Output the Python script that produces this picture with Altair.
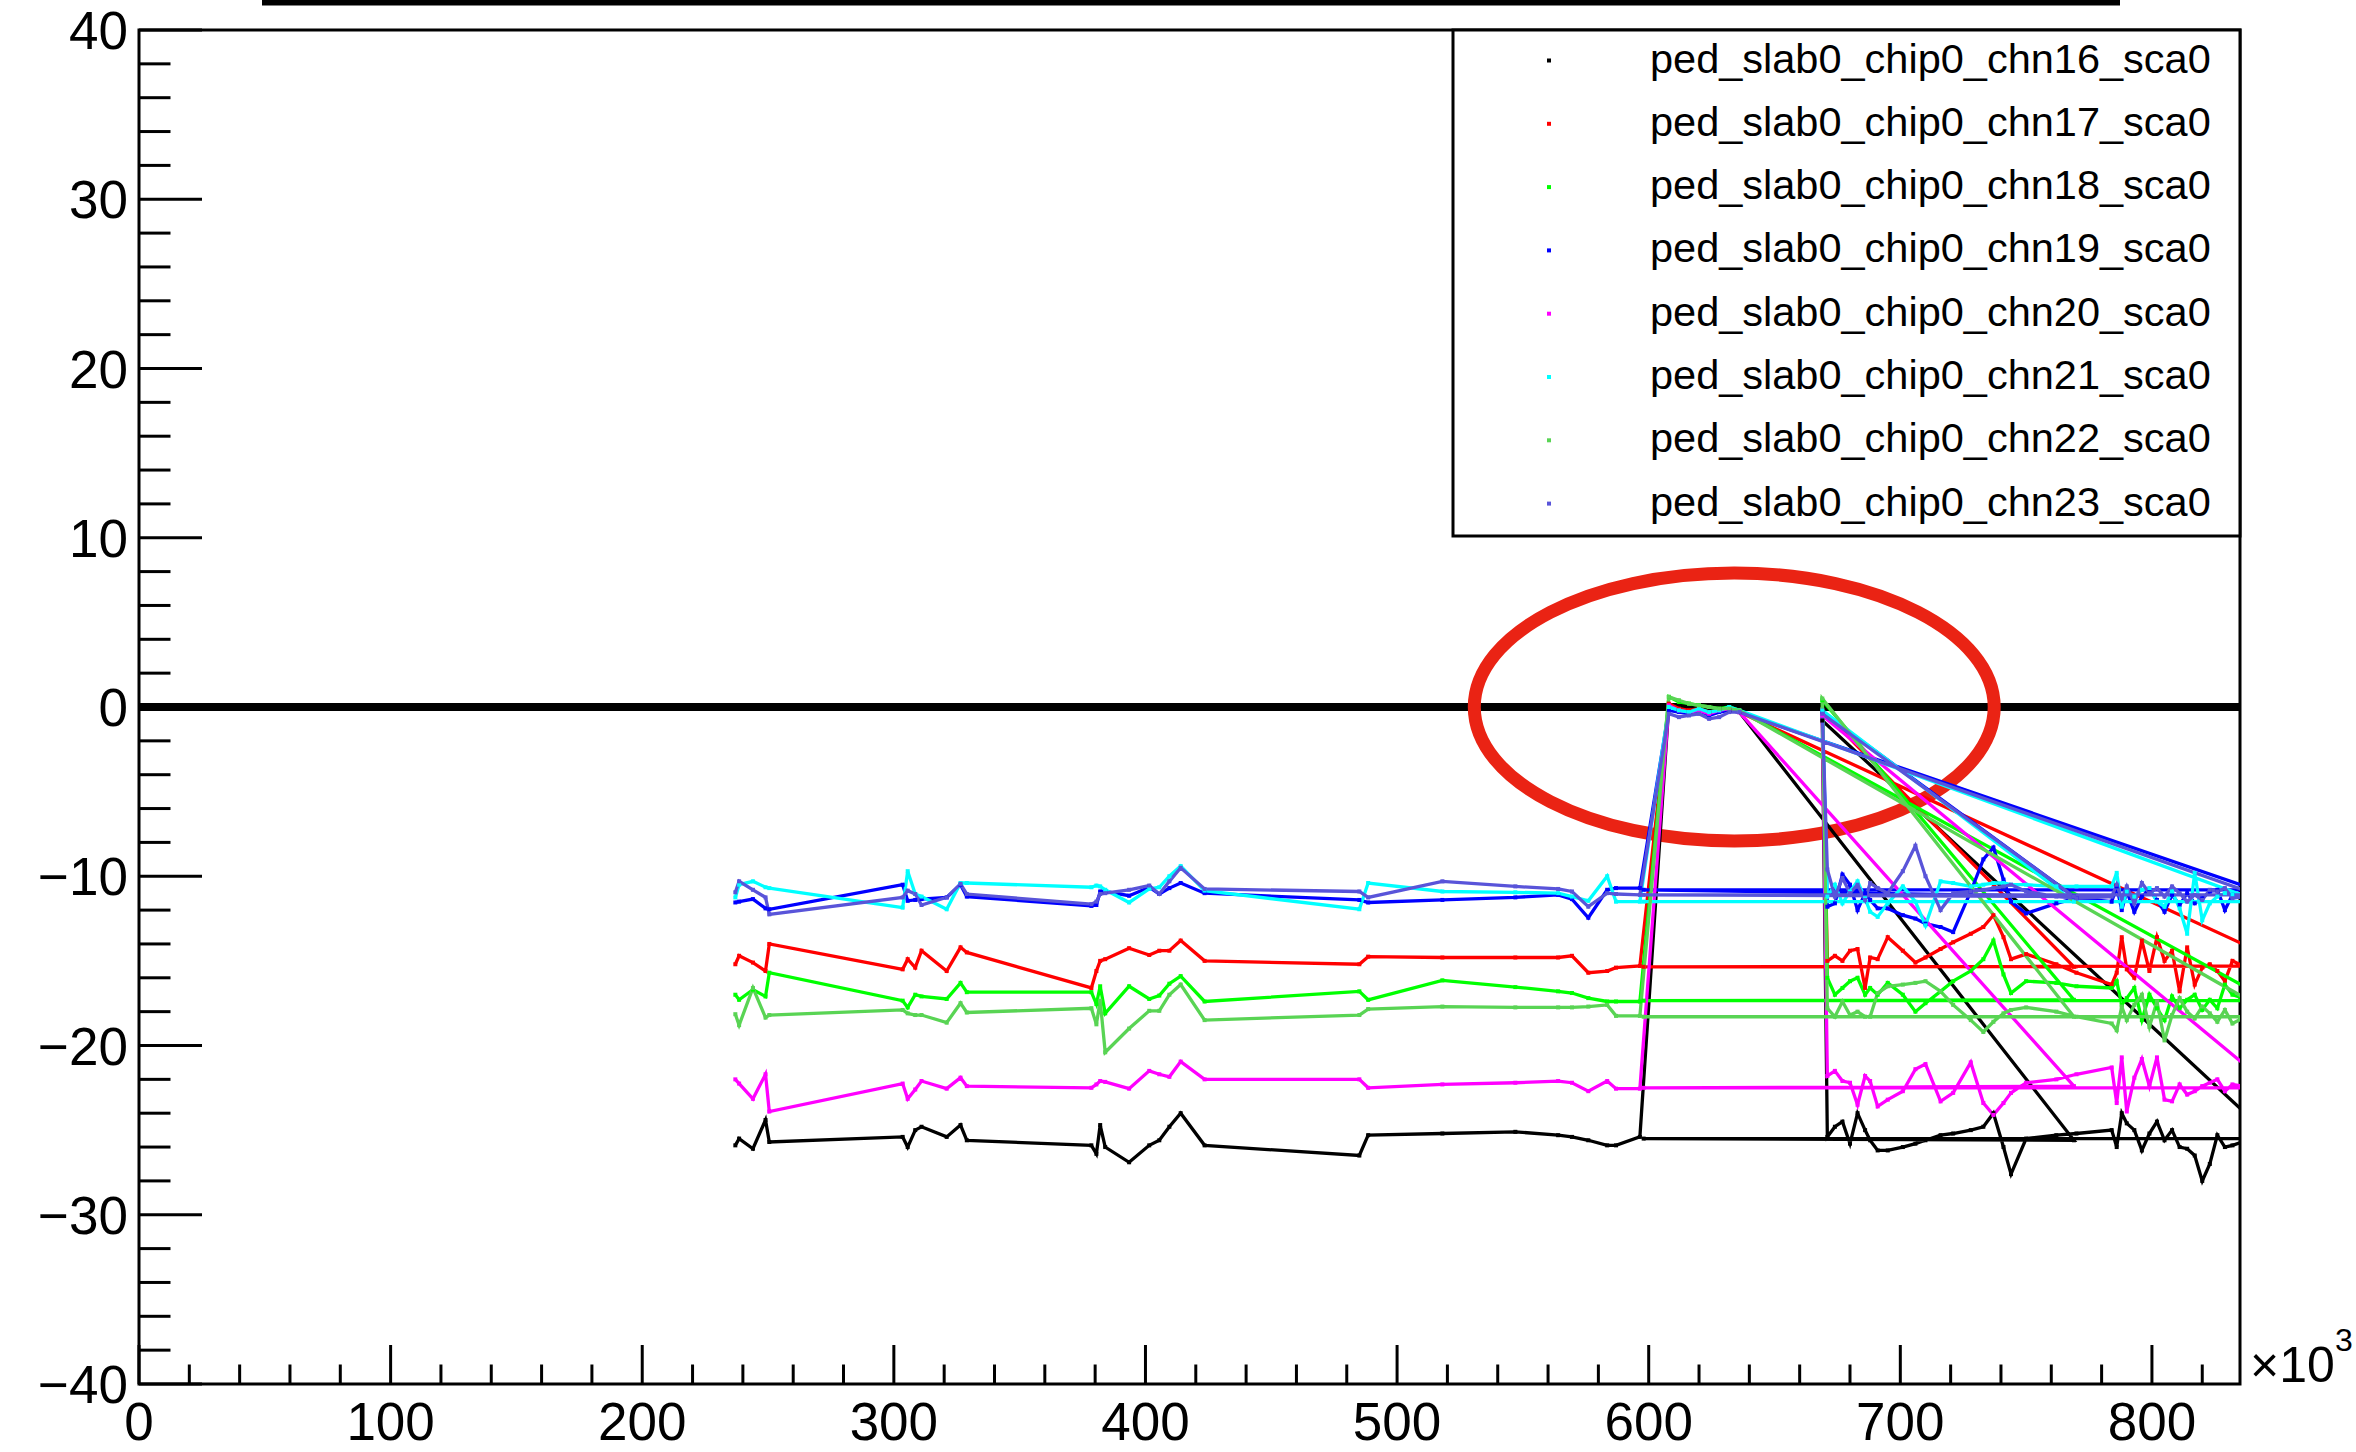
import altair as alt
import pandas as pd

# ---------------- data ----------------
names = ["ped_slab0_chip0_chn16_sca0", "ped_slab0_chip0_chn17_sca0",
         "ped_slab0_chip0_chn18_sca0", "ped_slab0_chip0_chn19_sca0",
         "ped_slab0_chip0_chn20_sca0", "ped_slab0_chip0_chn21_sca0",
         "ped_slab0_chip0_chn22_sca0", "ped_slab0_chip0_chn23_sca0"]
colors = ["#000000", "#ff0000", "#00ff00", "#0000ff",
          "#ff00ff", "#00ffff", "#59d454", "#5954d9"]

# first stretch (x in units of 10^3)
S1X = [237, 238.5, 244, 249, 250.5, 303.5, 305.5, 308.5, 311, 321, 326.5, 329,
       378.5, 380.5, 382, 384, 393.5, 401.5, 405.5, 409.5, 414, 423.5, 485, 488.5,
       518, 547, 564, 569.5, 576, 583.5, 587, 596.5]
S1Y = [
    [-25.9, -25.5, -26.1, -24.4, -25.7, -25.4, -26.0, -25.0, -24.8, -25.4, -24.7, -25.6,
     -25.9, -26.4, -24.7, -26.0, -26.9, -25.9, -25.6, -24.8, -24.0, -25.9, -26.5, -25.3,
     -25.2, -25.1, -25.3, -25.4, -25.6, -25.9, -25.9, -25.4],
    [-15.2, -14.7, -15.1, -15.6, -14.0, -15.5, -14.9, -15.4, -14.4, -15.6, -14.2, -14.5,
     -16.6, -15.6, -15.0, -14.9, -14.25, -14.65, -14.4, -14.4, -13.8, -15.0, -15.2, -14.75,
     -14.8, -14.8, -14.8, -14.7, -15.7, -15.6, -15.4, -15.3],
    [-17.0, -17.3, -16.7, -17.1, -15.7, -17.35, -17.75, -17.0, -17.1, -17.25, -16.3, -16.85,
     -16.85, -17.55, -16.5, -18.1, -16.5, -17.25, -17.05, -16.35, -15.9, -17.4, -16.8, -17.3,
     -16.15, -16.55, -16.8, -16.9, -17.2, -17.4, -17.4, -17.4],
    [-11.55, -11.5, -11.35, -11.9, -11.95, -10.5, -11.45, -11.4, -11.35, -11.25, -10.5, -11.2,
     -11.75, -11.7, -10.9, -10.9, -11.15, -10.65, -11.05, -10.7, -10.4, -11.0, -11.4, -11.55,
     -11.4, -11.25, -11.1, -11.35, -12.45, -10.8, -10.7, -10.7],
    [-22.0, -22.25, -23.15, -21.7, -23.9, -22.25, -23.15, -22.6, -22.1, -22.55, -21.9, -22.4,
     -22.5, -22.3, -22.1, -22.15, -22.55, -21.5, -21.7, -21.85, -20.95, -22.0, -22.0, -22.5,
     -22.3, -22.2, -22.1, -22.2, -22.7, -22.1, -22.55, -22.55],
    [-11.25, -10.5, -10.3, -10.65, -10.7, -11.85, -9.7, -11.05, -11.2, -11.95, -10.4, -10.4,
     -10.65, -10.55, -10.6, -10.8, -11.55, -10.75, -10.65, -10.0, -9.4, -10.85, -11.95, -10.4,
     -10.9, -10.95, -11.0, -11.2, -11.45, -10.0, -11.5, -11.5],
    [-18.15, -18.8, -16.6, -18.35, -18.2, -17.9, -18.1, -18.2, -18.2, -18.65, -17.5, -18.05,
     -17.8, -18.75, -17.35, -20.4, -19.0, -17.95, -17.95, -17.0, -16.4, -18.5, -18.2, -17.85,
     -17.7, -17.75, -17.75, -17.75, -17.7, -17.6, -18.25, -18.25],
    [-10.95, -10.3, -10.8, -11.25, -12.25, -11.25, -10.85, -11.05, -11.7, -11.25, -10.45, -11.05,
     -11.65, -11.5, -11.05, -11.0, -10.8, -10.55, -11.05, -10.3, -9.5, -10.75, -10.9, -11.25,
     -10.3, -10.6, -10.75, -10.9, -11.8, -11.0, -11.05, -11.1],
]

# stretch near zero
SQX = [608, 612, 616, 620, 624, 628, 632, 636]
SQY = [
    [0.1, -0.2, -0.3, 0.0, -0.3, -0.1, -0.2, -0.3],
    [0.2, -0.1, -0.2, -0.1, -0.3, -0.2, -0.1, -0.3],
    [0.6, 0.3, 0.2, 0.1, 0.0, -0.1, 0.0, -0.2],
    [-0.2, -0.3, -0.4, -0.2, -0.5, -0.3, -0.2, -0.3],
    [0.1, -0.2, -0.3, -0.2, -0.4, -0.2, -0.1, -0.3],
    [0.0, -0.2, -0.3, -0.1, -0.3, -0.2, 0.0, -0.2],
    [0.6, 0.4, 0.2, 0.1, 0.0, -0.1, -0.1, -0.2],
    [-0.4, -0.6, -0.5, -0.4, -0.7, -0.6, -0.3, -0.3],
]

# out-of-order points that make the long straight segments
AX = [769, 855, 847, 841, 769, 843, 850, 842]
AY = [-25.6, -15.3, -17.35, -10.8, -22.4, -11.5, -18.3, -11.1]
HX = 598
HY = [-25.5, -15.35, -17.35, -10.8, -22.5, -11.5, -18.3, -11.1]
BX = [848, 769, 769, 769, 848, 769, 769, 769]
BY = [-25.5, -15.35, -17.3, -11.2, -22.5, -11.5, -18.3, -11.2]
P2X = 669
P2Y = [-0.8, -0.2, 0.4, -0.3, -0.5, -0.2, 0.5, -0.4]

# last, noisy stretch
NX = [671, 674, 677, 680, 683, 686, 688, 691, 695, 701, 706, 710, 716, 721, 728, 733,
      737, 741, 744, 750, 762, 770, 784, 786, 788, 790, 793, 796, 799, 802, 805, 808,
      811, 814, 817, 820, 823, 826, 829, 832, 836]
NY = [
    [-25.4, -24.8, -24.5, -25.8, -24.0, -25.0, -25.6, -26.2, -26.2, -26.0, -25.8, -25.6,
     -25.3, -25.2, -25.0, -24.8, -24.0, -26.0, -27.6, -25.5, -25.3, -25.2, -25.0, -26.0,
     -24.0, -24.6, -25.0, -26.2, -25.2, -24.5, -25.6, -25.0, -26.0, -26.1, -26.5, -28.0,
     -27.0, -25.3, -26.0, -25.9, -25.7],
    [-15.0, -14.7, -15.0, -14.4, -14.3, -16.6, -14.8, -14.9, -13.6, -14.4, -15.1, -14.8,
     -14.3, -13.9, -13.4, -13.0, -12.3, -13.6, -14.9, -14.6, -15.2, -15.7, -16.4, -15.7,
     -13.6, -15.5, -16.0, -13.8, -15.6, -13.6, -15.0, -14.4, -16.8, -14.2, -16.4, -15.4,
     -15.2, -15.6, -16.2, -15.0, -15.3],
    [-16.0, -17.0, -16.6, -16.2, -16.0, -17.0, -16.6, -17.0, -16.3, -17.0, -18.0, -17.5,
     -16.8, -16.2, -15.6, -14.9, -13.8, -15.8, -16.9, -16.2, -16.3, -16.5, -16.6, -16.2,
     -17.6, -17.2, -16.6, -18.5, -17.0, -17.8, -18.5, -17.1, -17.8, -17.3, -17.0, -17.9,
     -17.3, -17.8, -16.4, -17.0, -17.2],
    [-11.8, -11.6, -9.9, -10.5, -12.0, -11.0, -11.4, -11.9, -11.9, -12.3, -12.5, -12.8,
     -13.0, -13.3, -10.9, -9.0, -8.3, -10.2, -11.5, -12.2, -11.6, -11.3, -11.5, -10.6,
     -12.0, -10.9, -12.1, -11.2, -10.8, -11.4, -12.1, -11.1, -11.7, -11.0, -11.6, -11.3,
     -10.9, -10.8, -12.0, -11.1, -11.3],
    [-21.8, -21.5, -22.1, -22.2, -23.5, -21.8, -22.1, -23.6, -23.2, -22.7, -21.4, -21.1,
     -23.3, -22.8, -21.0, -23.4, -24.1, -23.4, -22.8, -22.2, -22.0, -21.7, -21.3, -23.4,
     -20.7, -23.9, -21.9, -20.8, -22.4, -20.7, -23.2, -23.3, -22.3, -22.9, -22.7, -22.4,
     -22.2, -22.0, -22.7, -22.3, -22.4],
    [-11.2, -10.5, -11.6, -10.9, -10.3, -11.3, -12.1, -12.4, -11.6, -10.6, -11.5, -12.9,
     -10.3, -10.4, -10.6, -10.5, -10.4, -10.4, -10.5, -10.5, -10.6, -10.6, -10.6, -9.8,
     -11.8, -10.9, -11.2, -10.8, -10.7, -11.5, -11.8, -10.9, -11.9, -13.4, -9.8, -12.6,
     -11.6, -11.2, -11.0, -11.1, -11.0],
    [-17.8, -18.3, -17.4, -18.2, -18.0, -18.3, -18.3, -16.9, -16.5, -16.4, -16.3, -16.2,
     -16.8, -17.6, -18.5, -19.2, -18.6, -18.1, -17.9, -17.75, -18.0, -18.3, -18.7, -19.1,
     -17.7, -18.5, -17.6, -17.0, -18.9, -17.4, -19.7, -18.2, -17.2, -18.0, -18.4, -17.7,
     -18.1, -18.6, -17.9, -18.7, -18.4],
    [-9.6, -11.2, -10.1, -11.0, -10.5, -11.4, -10.4, -10.7, -11.0, -9.7, -8.2, -10.0,
     -12.0, -11.0, -10.9, -10.8, -10.7, -10.6, -10.5, -10.9, -11.2, -11.3, -11.2, -10.5,
     -11.3, -10.6, -11.6, -10.4, -11.0, -10.7, -11.2, -10.6, -11.0, -11.5, -11.1, -11.4,
     -10.8, -10.9, -10.7, -11.3, -11.2],
]

# axis ticks and labels
x_major = [0, 100, 200, 300, 400, 500, 600, 700, 800]
x_labels = ["0", "100", "200", "300", "400", "500", "600", "700", "800"]
x_minor = [v for v in range(20, 835, 20) if v % 100 != 0]
y_major = [-40, -30, -20, -10, 0, 10, 20, 30, 40]
y_labels = ["\u221240", "\u221230", "\u221220", "\u221210", "0", "10", "20", "30", "40"]
y_minor = [v for v in range(-38, 40, 2) if v % 10 != 0]

# highlighted region (ellipse centre)
ell_x, ell_y = [634], [0]

# ---------------- build table ----------------
rows = []
for k, name in enumerate(names):
    xs = S1X + SQX + [AX[k], HX, BX[k], P2X] + NX
    ys = S1Y[k] + SQY[k] + [AY[k], HY[k], BY[k], P2Y[k]] + NY[k]
    for i, (xv, yv) in enumerate(zip(xs, ys)):
        rows.append({"series": name, "x": xv, "y": yv, "i": i})
df = pd.DataFrame(rows)

W, H = 2101, 1354
FONT = "Liberation Sans"
xs_ = alt.Scale(domain=[0, 835], nice=False, zero=False)
ys_ = alt.Scale(domain=[-40, 40], nice=False, zero=False)
cs_ = alt.Scale(domain=names, range=colors)

X = alt.X("x:Q", scale=xs_, axis=None)
Y = alt.Y("y:Q", scale=ys_, axis=None)
C = alt.Color("series:N", scale=cs_, legend=None)

lines = alt.Chart(df).mark_line(clip=True, strokeWidth=3.3).encode(
    x=X, y=Y, color=C, order=alt.Order("i:Q"))
markers = alt.Chart(df).mark_point(clip=True, shape="square", filled=True, size=16,
                                   opacity=1).encode(x=X, y=Y, color=C)

zero = alt.Chart(pd.DataFrame({"v": [0]})).mark_rule(color="black", strokeWidth=8).encode(
    y=alt.Y("v:Q", scale=ys_, axis=None))

def yticks(vals, length):
    return alt.Chart(pd.DataFrame({"v": vals})).mark_rule(color="black", strokeWidth=3).encode(
        y=alt.Y("v:Q", scale=ys_, axis=None), x=alt.value(0), x2=alt.value(length))

def xticks(vals, length):
    return alt.Chart(pd.DataFrame({"v": vals})).mark_rule(color="black", strokeWidth=3).encode(
        x=alt.X("v:Q", scale=xs_, axis=None), y=alt.value(H), y2=alt.value(H - length))

xlab = alt.Chart(pd.DataFrame({"v": x_major, "t": x_labels})).mark_text(
    align="center", baseline="alphabetic", font=FONT, fontSize=53, color="black").encode(
    x=alt.X("v:Q", scale=xs_, axis=None), y=alt.value(H + 56), text="t:N")
ylab = alt.Chart(pd.DataFrame({"v": y_major, "t": y_labels})).mark_text(
    align="right", baseline="alphabetic", font=FONT, fontSize=53, color="black", dy=19).encode(
    y=alt.Y("v:Q", scale=ys_, axis=None), x=alt.value(-11), text="t:N")

ell_path = ("M1.94,0C1.94,0.5523,1.0715,1,0,1C-1.0715,1,-1.94,0.5523,-1.94,0"
            "C-1.94,-0.5523,-1.0715,-1,0,-1C1.0715,-1,1.94,-0.5523,1.94,0Z")
ellipse = alt.Chart(pd.DataFrame({"x": ell_x, "y": ell_y})).mark_point(
    shape=ell_path, filled=False, stroke="#ea2314", strokeWidth=13, size=71824, opacity=1
).encode(x=X, y=Y)

one = pd.DataFrame({"a": [0]})
topbar = alt.Chart(one).mark_rule(color="black", strokeWidth=5.5).encode(
    x=alt.value(123), x2=alt.value(1981), y=alt.value(-27.25))

legbox = alt.Chart(one).mark_rect(fill="white", stroke="black", strokeWidth=3).encode(
    x=alt.value(1314), x2=alt.value(W), y=alt.value(0), y2=alt.value(506))

layers = [zero, ellipse, lines, markers, yticks(y_major, 63), yticks(y_minor, 31.5),
          xticks(x_major, 39), xticks(x_minor, 19.5), xlab, ylab, topbar, legbox]

for k, name in enumerate(names):
    yy = 30.5 + 63.3 * k
    d = pd.DataFrame({"t": [name]})
    layers.append(alt.Chart(d).mark_point(shape="square", filled=True, size=16,
                                          color=colors[k], opacity=1).encode(
        x=alt.value(1410), y=alt.value(yy)))
    layers.append(alt.Chart(d).mark_text(align="left", baseline="middle", font=FONT,
                                         fontSize=41.5, color="black").encode(
        x=alt.value(1511), y=alt.value(yy), text="t:N"))

layers.append(alt.Chart(pd.DataFrame({"t": ["\u00d710"]})).mark_text(
    align="left", baseline="alphabetic", font=FONT, fontSize=50, color="black").encode(
    x=alt.value(2111), y=alt.value(1352), text="t:N"))
layers.append(alt.Chart(pd.DataFrame({"t": ["3"]})).mark_text(
    align="left", baseline="alphabetic", font=FONT, fontSize=32, color="black").encode(
    x=alt.value(2196), y=alt.value(1321), text="t:N"))

chart = alt.layer(*layers).properties(
    width=W, height=H,
    background="white",
    autosize=alt.AutoSizeParams(type="none"),
    padding={"left": 139, "top": 30, "right": 116, "bottom": 68},
).configure_view(stroke="black", strokeWidth=3)

chart.save("out.html", embed_options={"renderer": "svg", "actions": False})
